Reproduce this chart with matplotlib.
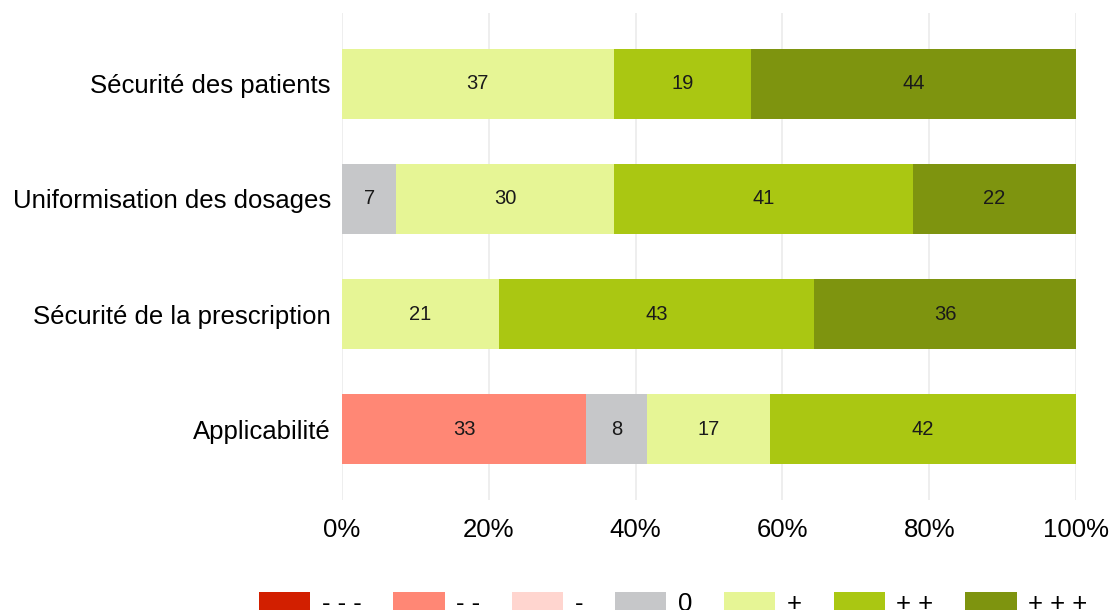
import numpy as np
import matplotlib
matplotlib.use("Agg")
import matplotlib.pyplot as plt
from matplotlib.patches import Patch

plt.rcParams["font.family"] = ["Liberation Sans", "DejaVu Sans"]

# categories from bottom to top
categories = ["Applicabilité", "Sécurité de la prescription",
              "Uniformisation des dosages", "Sécurité des patients"]
levels = ["- - -", "- -", "-", "0", "+", "+ +", "+ + +"]
colors = ["#D21F00", "#FF8775", "#FFD5CF", "#C6C7C9", "#E6F595", "#AAC712", "#7E940F"]

# percentages per level (rows follow categories)
values = {
    "- - -": [0, 0, 0, 0],
    "- -": [33.3, 0, 0, 0],
    "-": [0, 0, 0, 0],
    "0": [8.3, 0, 7.4, 0],
    "+": [16.7, 21.4, 29.6, 37.0],
    "+ +": [41.7, 42.9, 40.8, 18.7],
    "+ + +": [0, 35.7, 22.2, 44.3],
}

fig = plt.figure(figsize=(11.13, 6.10), dpi=100)
ax = fig.add_axes([342 / 1113, (610 - 500) / 610, (1076 - 342) / 1113, 487 / 610])

y = np.arange(len(categories))
left = np.zeros(len(categories))
for lev, col in zip(levels, colors):
    v = np.array(values[lev])
    ax.barh(y, v, left=left, height=0.607, color=col, edgecolor="none", zorder=2)
    for yi, (l, w) in enumerate(zip(left, v)):
        if w > 0:
            ax.text(l + w / 2, yi, f"{w:.0f}", ha="center", va="center",
                    fontsize=14.5, color="#1a1a1a", zorder=3)
    left += v

ax.set_xlim(0, 100)
ax.set_ylim(-0.615, 3.615)
ax.set_xticks([0, 20, 40, 60, 80, 100])
ax.set_xticklabels(["0%", "20%", "40%", "60%", "80%", "100%"])
ax.set_yticks(y)
ax.set_yticklabels(categories)
ax.tick_params(axis="both", length=0, labelsize=18.5, colors="black")
ax.tick_params(axis="x", pad=13)
ax.tick_params(axis="y", pad=8)
ax.grid(axis="x", color="#EBEBEB", linewidth=1.2, zorder=0)
ax.set_axisbelow(True)
for s in ax.spines.values():
    s.set_visible(False)

handles = [Patch(facecolor=c, edgecolor="none") for c in colors]
fig.legend(handles, levels, loc="upper left",
           bbox_to_anchor=(259 / 1113, (610 - 592) / 610),
           ncol=7, frameon=False, fontsize=18.5, handlelength=2.0,
           handleheight=0.8, handletextpad=0.45, columnspacing=1.23,
           borderpad=0, borderaxespad=0)

fig.savefig("out.png", dpi=100)
